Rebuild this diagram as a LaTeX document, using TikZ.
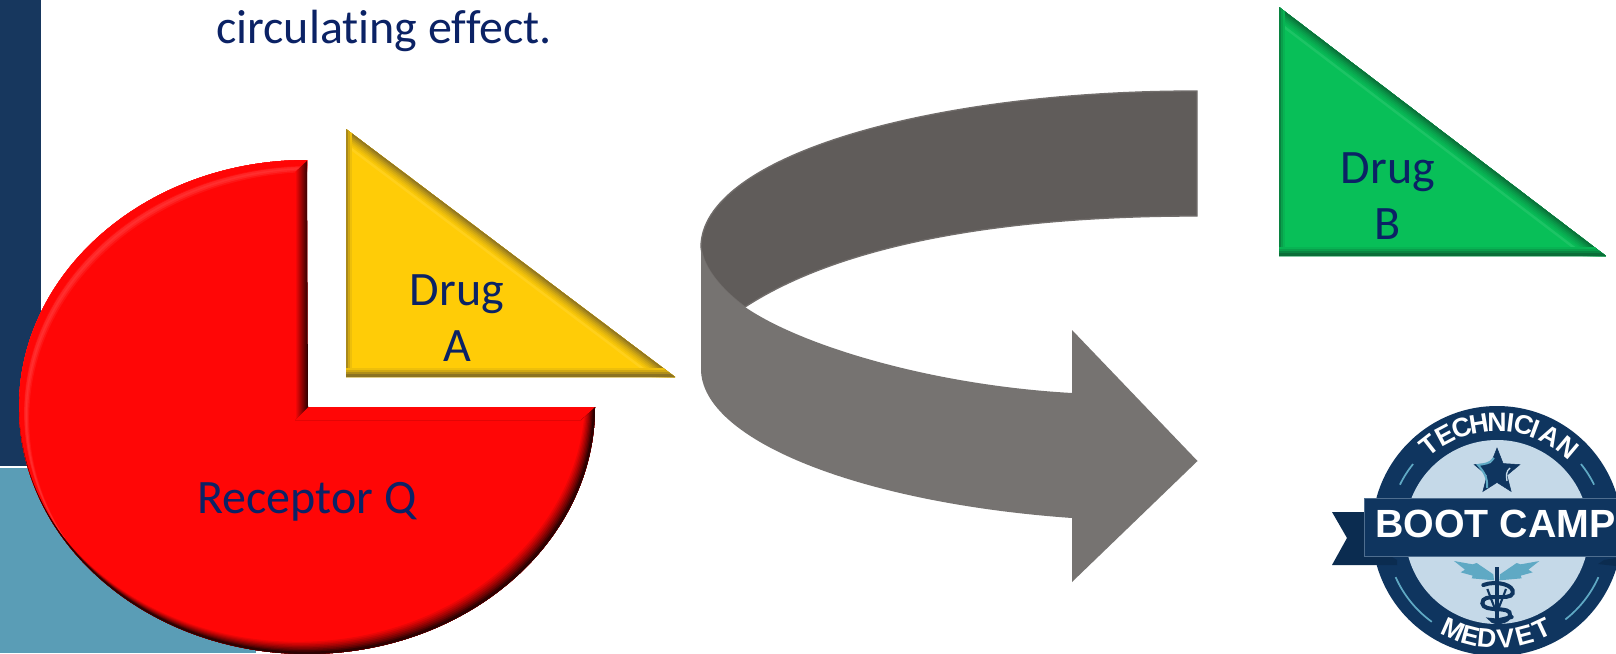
\documentclass[tikz,border=0pt]{standalone}
\usepackage{fontspec}
\setmainfont{Carlito}[Ligatures=NoCommon]
\newfontfamily\logofont{Liberation Sans}
\usepackage{xcolor}
\usetikzlibrary{positioning,shapes.geometric}
\definecolor{Side}{HTML}{17375E}
\definecolor{Teal}{HTML}{5A9DB6}
\definecolor{Ink}{HTML}{0B2265}
\definecolor{Pie}{HTML}{FF0606}
\definecolor{PieHi}{HTML}{FF4A4A}
\definecolor{Yolk}{HTML}{FFCC07}
\definecolor{YolkDk}{HTML}{8C7322}
\definecolor{Leaf}{HTML}{08BF58}
\definecolor{LeafDk}{HTML}{0A6E38}
\definecolor{BandDk}{HTML}{605C5A}
\definecolor{BandLt}{HTML}{767371}
\definecolor{BandEdge}{HTML}{716D6B}
\definecolor{Badge}{HTML}{0F355F}
\definecolor{BadgeDk}{HTML}{0B2C50}
\definecolor{BadgeLt}{HTML}{C5D9E8}
\definecolor{BadgeTeal}{HTML}{5FA9C4}
\newcommand{\bevelstroke}[3]{\foreach \wd/\mx in {17/6,14.5/16,12/28,9.5/42,7/58,4.5/76,2/95}{\draw[line width=\wd pt,draw=#3!\mx!#2] #1;}}
\newcommand{\drugwedge}[6]{
\fill[#5] (#1,#2)--(#1,#3)--(#4,#3)--cycle;
\begin{scope}
\clip (#1,#2)--(#1,#3)--(#4,#3)--cycle;
\draw[line width=21pt,draw=#5!92!white] (#1,#2)--(#4,#3);
\bevelstroke{(#1,#2)--(#4,#3)}{#5}{#6}
\foreach \wd/\mx in {9/15,6/40,3/75}{\draw[line width=\wd pt,draw=#6!\mx!#5] (#1,#2)--(#1,#3);}
\foreach \wd/\mx in {14/15,11/40,8/70,5/100}{\draw[line width=\wd pt,draw=#6!\mx!#5] (#1,#3)--(#4,#3);}
\end{scope}
}
\newcommand{\piecrescent}[4]{\fill[#4,even odd rule] (0,150) rectangle (610,660) ({307+#1},{407+#2}) ellipse[x radius=#3,y radius=#3-41];}
\begin{document}
\begin{tikzpicture}[x=0.75pt,y=-0.75pt,
  every node/.style={inner sep=0pt,align=center},
  bodytext/.style={font=\fontsize{36}{41.5}\selectfont,text=Ink},
  ringletter/.style={font=\logofont\bfseries\fontsize{20}{20}\selectfont,text=white},
  snake/.style={draw=Badge,line width=3pt,line cap=round}
]
\useasboundingbox (0,0) rectangle (1616,653);
\clip (0,0) rectangle (1616,653);
\fill[white] (0,0) rectangle (1616,653);
\fill[Side] (0,0) rectangle (41,467);
\fill[Teal] (0,467) rectangle (256,653);
\draw[white,line width=1pt] (0,467)--(41,467);

\node[bodytext,anchor=base west] (caption) at (216,43) {circulating effect.};

\fill[Pie] (595,407) arc[start angle=0,end angle=270,x radius=288,y radius=247]--(308,407)--cycle;
\begin{scope}
\clip (595,407) arc[start angle=0,end angle=270,x radius=288,y radius=247]--(308,407)--cycle;
\foreach \dd/\mx in {17/20,15/45,13/60,11/45,9/15}{
  \piecrescent{.6*\dd}{.7*\dd}{288}{PieHi!\mx!Pie}}
\piecrescent{.6*8}{.7*8}{288}{Pie}
\foreach \dd/\mx in {16/8,14/16,12/26,10/36,8/47,6/58,4/70,2/82}{
  \piecrescent{-.55*\dd}{-.7*\dd}{287}{black!\mx!Pie}}
\fill[top color=Pie,middle color=PieHi,bottom color=Pie] (308,407)--(295,420)--(581,420)--(595,407)--cycle;
\shade[left color=Pie,right color=black!85!Pie] (295,172)--(308,160)--(308,407)--(295,420)--cycle;
\end{scope}
\node[bodytext] (receptor) at (307,502) {Receptor Q};

\drugwedge{346}{129}{377}{675}{Yolk}{YolkDk}
\node[bodytext] (druga) at (457,318) {Drug\\A};

\drugwedge{1279}{7}{256}{1606}{Leaf}{LeafDk}
\node[bodytext] (drugb) at (1388,196) {Drug\\B};

\filldraw[fill=BandDk,draw=BandEdge,line width=1pt] (1197,91) .. controls (924,91) and (701,158) .. (701,247)
  .. controls (703,268) and (722,290) .. (745,307)
  .. controls (840,245) and (1000,216) .. (1197,216)--cycle;
\fill[BandLt] (701,247) .. controls (703,268) and (722,290) .. (745,307)
  .. controls (800,345) and (930,385) .. (1072,393)--(1072,330)--(1197.5,461)--(1072,582)--(1072,518)
  .. controls (860,503) and (701,440) .. (701,369)--cycle;

\fill[Badge] (1497,531) circle[radius=125];
\fill[BadgeLt] (1497,532) circle[radius=92];
\foreach \from/\to/\rad in {141/154/108,26/39/108,204/234/111,-52/-24/111}{
  \draw[BadgeTeal,line width=1.3pt] ({1497+\rad*cos(\from)},{532-\rad*sin(\from)}) arc[start angle=-\from,end angle=-\to,radius=\rad];}
\foreach \glyph/\ang [count=\i] in {T/128,E/118,C/108.5,H/99.5,N/90,I/83,C/76,I/69.5,A/61,N/50}{
  \node[ringletter,rotate=\ang-90] (tech\i) at ({1497+110*cos(\ang)},{532-110*sin(\ang)}) {\glyph};}
\foreach \glyph/\ang [count=\i] in {M/-24,E/-14.5,D/-5.5,V/4.5,E/15,T/25}{
  \node[ringletter,rotate=\ang] (medvet\i) at ({1497+107*sin(\ang)},{532+107*cos(\ang)}) {\glyph};}

\node[star,star points=5,star point ratio=2.3,minimum size=36pt,fill=Badge,draw=Badge] (star) at (1497,472) {};
\draw[BadgeTeal,line width=1.5pt] (1494,458) .. controls (1490,464) and (1484,464) .. (1478,465) .. controls (1484,472) and (1488,478) .. (1487,488);
\draw[BadgeLt,line width=1pt] (1510,468) .. controls (1506,471) and (1506,476) .. (1507,481);

\fill[BadgeDk] (1332,512)--(1380,512)--(1380,550)--(1397,560)--(1397,565)--(1332,565)--(1347,538)--cycle;
\fill[BadgeDk] (1616,558)--(1604,560)--(1598,564)--(1616,566)--cycle;
\filldraw[fill=Badge,draw=BadgeLt!35!Badge,line width=.6pt] (1364,498) rectangle (1630,556);
\node[font=\logofont\bfseries\fontsize{29.5}{30}\selectfont,text=white] (bootcamp) at (1495.5,524) {BOOT CAMP};

\begin{scope}[shift={(1430,555)},x=0.25pt,y=-0.25pt]
\foreach \flip in {1,-1}{
\fill[BadgeTeal] ({200-\flip*128},18)--({200-\flip*72},28)--({200-\flip*60},24)--({200-\flip*10},58)--({200-\flip*8},76)--({200-\flip*75},70)--({200-\flip*72},62)--({200-\flip*108},52)--({200-\flip*95},44)--cycle;}
\draw[Badge,line width=3pt] (200,36)--(200,214);
\draw[Badge,line width=1.6pt] (172,102)--(200,175)--(228,102);
\draw[snake] (160,90) .. controls (200,75) and (255,90) .. (248,115) .. controls (240,140) and (155,110) .. (157,145) .. controls (160,175) and (245,150) .. (240,180) .. controls (235,205) and (190,205) .. (185,195) .. controls (200,200) and (225,190) .. (245,186);
\end{scope}
\end{tikzpicture}
\end{document}
